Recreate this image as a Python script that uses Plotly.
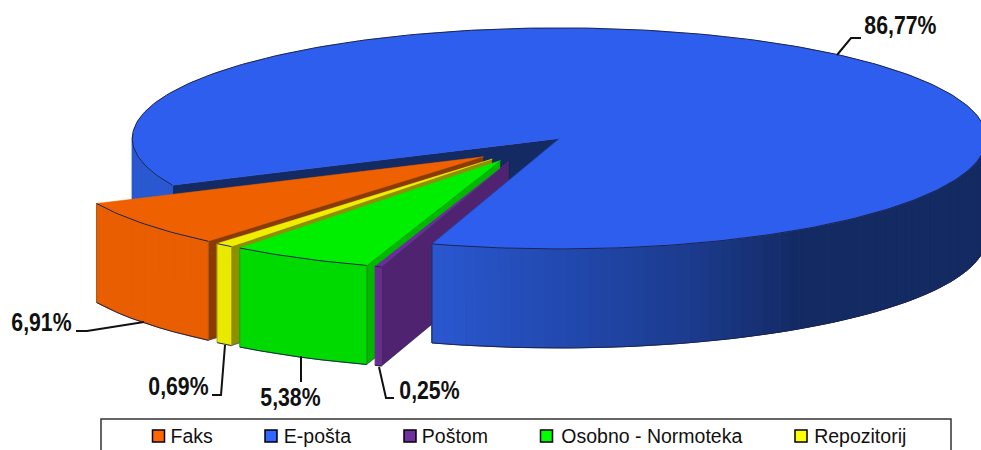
import math
import plotly.graph_objects as go

# ---- data
categories = ["Faks", "E-pošta", "Poštom", "Osobno - Normoteka", "Repozitorij"]
values = [6.91, 86.77, 0.25, 5.38, 0.69]
value_labels = ["6,91%", "86,77%", "0,25%", "5,38%", "0,69%"]
top_colors = ["#ee6000", "#2e5eee", "#6a2d9a", "#00ee00", "#eeee00"]
face_colors = ["#e85e00", "#2a58d0", "#672c96", "#00da00", "#e8e800"]
wall_colors = ["#8a3c00", "#132a62", "#4f2370", "#00b800", "#8f8f00"]
legend_colors = ["#ff6600", "#3366ff", "#7030a0", "#00ff00", "#ffff00"]

# ---- geometry of the projected pie
W, H = 981, 450
CX, CY = 525, 148.6
RX, RY = 427, 110.5
DEPTH = 99
EXPLODE = 0.1222
ROTATION = 220.12
EDGE = "#1c2450"

fig = go.Figure()


def poly(xs, ys, color, line=None, width=1):
    fig.add_trace(go.Scatter(
        x=xs + xs[:1], y=ys + ys[:1], mode="lines", fill="toself", fillcolor=color,
        line=dict(color=line or color, width=width), hoverinfo="skip", showlegend=False))


def stroke(xs, ys, color=EDGE, width=1):
    fig.add_trace(go.Scatter(x=xs, y=ys, mode="lines", line=dict(color=color, width=width),
                             hoverinfo="skip", showlegend=False))


def frange(a, b, step=1.5):
    n = max(2, int(abs(b - a) / step) + 1)
    return [a + (b - a) * i / (n - 1) for i in range(n)]


def mix(c1, c2, t):
    a = [int(c1[i:i + 2], 16) for i in (1, 3, 5)]
    b = [int(c2[i:i + 2], 16) for i in (1, 3, 5)]
    return "#" + "".join(f"{round(p + (q - p) * t):02x}" for p, q in zip(a, b))


# slice angles, clockwise from 12 o'clock
slices = []
angle = ROTATION
for i, v in enumerate(values):
    a0, a1 = angle, angle + v * 3.6
    mid = math.radians((a0 + a1) / 2)
    slices.append(dict(i=i, a0=a0, a1=a1,
                       cx=CX + EXPLODE * RX * math.sin(mid),
                       cy=CY - EXPLODE * RY * math.cos(mid)))
    angle = a1


def rim(s, deg):
    r = math.radians(deg)
    return s["cx"] + RX * math.sin(r), s["cy"] - RY * math.cos(r)


def outer_wall(s, lo, hi, shade=None, step=1.5):
    """Curved side, drawn in short strips so that it can be shaded across x."""
    angs = frange(lo, hi, step)
    for a, b in zip(angs[:-1], angs[1:]):
        x0, y0 = rim(s, a)
        x1, y1 = rim(s, b)
        col = shade((x0 + x1) / 2) if shade else face_colors[s["i"]]
        poly([x0, x1, x1, x0], [y0, y1, y1 + DEPTH, y0 + DEPTH], col, width=1)
    xs, ys = zip(*[rim(s, a) for a in angs])
    stroke(list(xs), [y + DEPTH for y in ys], width=1)


def top(s):
    angs = frange(s["a0"], s["a1"], 1)
    pts = [rim(s, a) for a in angs]
    xs = [s["cx"]] + [p[0] for p in pts]
    ys = [s["cy"]] + [p[1] for p in pts]
    poly(xs, ys, top_colors[s["i"]], line=top_colors[s["i"]], width=0.5)
    stroke([p[0] for p in pts], [p[1] for p in pts], width=1)


def inner_wall(s, deg):
    x, y = rim(s, deg)
    poly([s["cx"], x, x, s["cx"]], [s["cy"], y, y + DEPTH, s["cy"] + DEPTH],
         wall_colors[s["i"]], line=EDGE, width=0.6)


def blue_shade(x):
    stops = [(130, "#2a58d2"), (431, "#2a58d0"), (570, "#2148ad"), (690, "#1c3b8e"), (800, "#132a62"), (981, "#132a62")]
    for (x0, c0), (x1, c1) in zip(stops[:-1], stops[1:]):
        if x <= x1:
            return mix(c0, c1, max(0, (x - x0) / (x1 - x0)))
    return stops[-1][1]


# back part of the large slice: its cut wall and its left side
blue = slices[1]
inner_wall(blue, blue["a0"])
outer_wall(blue, blue["a0"], 272)

# then the small slices, from the left to the right
for idx in (0, 4, 3, 2):
    s = slices[idx]
    inner_wall(s, s["a0"])
    outer_wall(s, s["a0"], s["a1"], step=3)
    for deg in (s["a0"], s["a1"]):
        x, y = rim(s, deg)
        stroke([x, x], [y, y + DEPTH], color="#5a4a30", width=0.4)
    top(s)

# front part and top of the large slice overlap the small slices' walls
outer_wall(blue, 88, blue["a1"] - 360, shade=blue_shade)
x_c, y_c = rim(blue, blue["a1"])
stroke([x_c, x_c], [y_c, y_c + DEPTH], width=1)
top(blue)
stroke([blue["cx"], x_c], [blue["cy"], y_c], color="#1c3b8e", width=0.6)

# ---- leader lines and data labels
leaders = {
    "Faks": ([76, 87, 144], [331, 331, 322]),
    "E-pošta": ([837, 851, 861], [55, 38, 38]),
    "Poštom": ([379, 386, 394], [367, 398, 398]),
    "Osobno - Normoteka": ([301, 301], [356, 382]),
    "Repozitorij": ([225, 221, 212], [345, 395, 395]),
}
label_pos = {
    "Faks": (41, 322),
    "E-pošta": (900, 25),
    "Poštom": (429, 390),
    "Osobno - Normoteka": (290, 397),
    "Repozitorij": (178, 386),
}
annotations = []
for name, text in zip(categories, value_labels):
    xs, ys = leaders[name]
    stroke(xs, ys, color="#111111", width=2)
    lx, ly = label_pos[name]
    annotations.append(dict(x=lx, y=ly, text=f"<b>{text}</b>", showarrow=False, xanchor="center", yanchor="middle",
                            font=dict(family="Liberation Sans", size=25, color="#111111")))

# ---- legend row
legend_x = [158.5, 271, 410, 546.5, 801]
legend_text_x = [168, 281, 419, 557, 811]
LEGEND_Y = 436
for name, col, mx, tx in zip(categories, legend_colors, legend_x, legend_text_x):
    fig.add_trace(go.Scatter(x=[mx], y=[LEGEND_Y], mode="markers", name=name, showlegend=False, hoverinfo="name",
                             marker=dict(symbol="square", size=12, color=col, line=dict(color="#000000", width=1.5))))
    annotations.append(dict(x=tx, y=LEGEND_Y, text=name, showarrow=False, xanchor="left", yanchor="middle",
                            font=dict(family="Liberation Sans", size=20, color="#111111")))

fig.update_layout(
    width=W, height=H, margin=dict(l=0, r=0, t=0, b=0),
    paper_bgcolor="white", plot_bgcolor="white", showlegend=False,
    xaxis=dict(range=[0, W], visible=False, fixedrange=True),
    yaxis=dict(range=[H, 0], visible=False, fixedrange=True),
    annotations=annotations,
    shapes=[dict(type="rect", x0=101, x1=951, y0=419, y1=470, line=dict(color="#333333", width=1.5), layer="below")],
)

# the reference's lettering is horizontally condensed
condense = """
document.body.style.margin='0';
document.querySelectorAll('.annotation-text').forEach(function (t) {
  var bold = t.querySelector('tspan[style*="bold"]') !== null;
  var f = bold ? 0.85 : 0.975;
  t.setAttribute('textLength', t.getComputedTextLength() * f);
  t.setAttribute('lengthAdjust', 'spacingAndGlyphs');
});
"""
fig.write_html("out.html", post_script=condense, config={"displayModeBar": False})
